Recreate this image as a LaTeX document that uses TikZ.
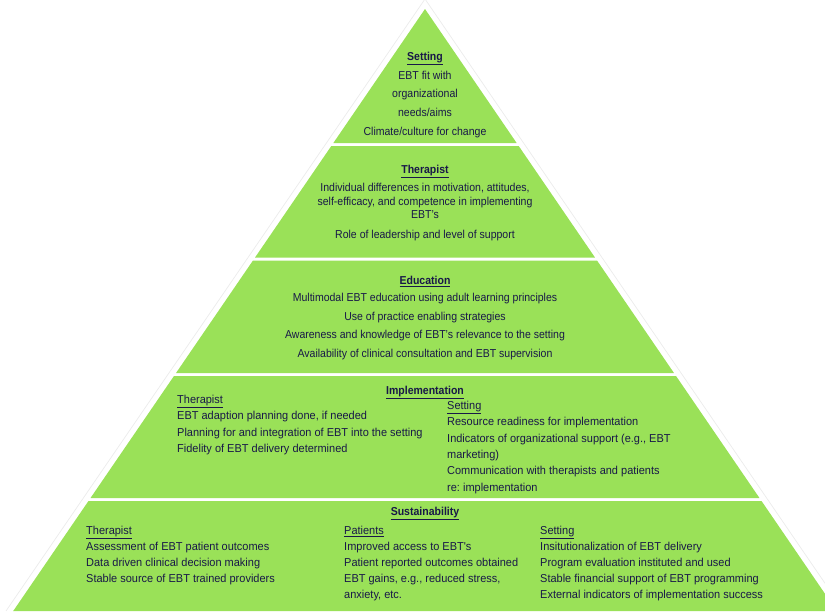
\documentclass[tikz,border=0pt]{standalone}
\usepackage{fontspec}
\setmainfont{Liberation Sans}[FakeStretch=0.915]
\newfontfamily\colfont{Liberation Sans}[FakeStretch=0.955]
\usepackage{xcolor}
\definecolor{pyrgreen}{RGB}{154,225,88}
\definecolor{pyrtext}{RGB}{24,24,72}
\frenchspacing

\begin{document}
\begin{tikzpicture}[x=1pt, y=-1pt,
  layer/.style={fill=pyrgreen, draw=none},
  halo/.style={draw=black!8, line width=0.7pt},
  center/.style={text=pyrtext, inner sep=0pt, font=\fontsize{11.5}{#1}\selectfont,
                 align=center, anchor=north},
  column/.style={text=pyrtext, inner sep=0pt, font=\colfont\fontsize{11.5}{#1}\selectfont,
                 align=left, anchor=north west}
]
  \useasboundingbox (0,0) rectangle (825,611);

  % Faint outline around the pyramid
  \draw[halo] (6,611) -- (425,-1) -- (844,611);

  % Pyramid layers
  \foreach \ya/\yb in {9/143, 146/257.5, 260.5/373, 376/498, 501/611}
    \fill[layer] ({425-0.684*(\ya-9)},\ya) -- ({425+0.684*(\ya-9)},\ya)
      -- ({425+0.684*(\yb-9)},\yb) -- ({425-0.684*(\yb-9)},\yb) -- cycle;

  % Layer 1
  \node[center=18.7] (setting) at (425,52)
    {\textbf{\underline{Setting}}\\EBT fit with\\organizational\\needs/aims\\Climate/culture for change};

  % Layer 2
  \node[center=13.8] (therapist) at (425,165)
    {\textbf{\underline{Therapist}}\\[4pt]Individual differences in motivation, attitudes,\\self-efficacy, and competence in implementing\\EBT's\\[6pt]Role of leadership and level of support};

  % Layer 3
  \node[center=18.6] (education) at (425,276)
    {\textbf{\underline{Education}}\\[-1.5pt]Multimodal EBT education using adult learning principles\\Use of practice enabling strategies\\Awareness and knowledge of EBT's relevance to the setting\\Availability of clinical consultation and EBT supervision};

  % Layer 4
  \node[center=16] (implementation) at (425,386) {\textbf{\underline{Implementation}}};
  \node[column=16.3] (impTherapist) at (177,395)
    {\underline{Therapist}\\EBT adaption planning done, if needed\\Planning for and integration of EBT into the setting\\Fidelity of EBT delivery determined};
  \node[column=16.3] (impSetting) at (447,401)
    {\underline{Setting}\\Resource readiness for implementation\\Indicators of organizational support (e.g., EBT\\marketing)\\Communication with therapists and patients\\re: implementation};

  % Layer 5
  \node[center=16] (sustainability) at (425,507) {\textbf{\underline{Sustainability}}};
  \node[column=16] (susTherapist) at (86,526)
    {\underline{Therapist}\\Assessment of EBT patient outcomes\\Data driven clinical decision making\\Stable source of EBT trained providers};
  \node[column=16] (susPatients) at (344,526)
    {\underline{Patients}\\Improved access to EBT's\\Patient reported outcomes obtained\\EBT gains, e.g., reduced stress,\\anxiety, etc.};
  \node[column=16] (susSetting) at (540,526)
    {\underline{Setting}\\Insitutionalization of EBT delivery\\Program evaluation instituted and used\\Stable financial support of EBT programming\\External indicators of implementation success};
\end{tikzpicture}
\end{document}
